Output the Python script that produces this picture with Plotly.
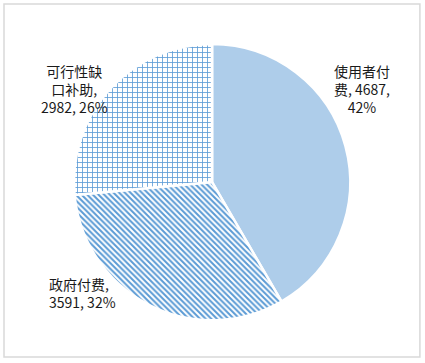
import plotly.graph_objects as go

categories = ["使用者付费", "政府付费", "可行性缺口补助"]
values = [4687, 3591, 2982]
percents = ["42%", "32%", "26%"]
label_lines = [["使用者付", "费, {v},", "{p}"], ["政府付费,", "{v}, {p}"], ["可行性缺", "口补助,", "{v}, {p}"]]

blue = "#5B9BD5"

fig = go.Figure(go.Pie(
    labels=categories,
    values=values,
    sort=False,
    direction="clockwise",
    rotation=0,
    textinfo="none",
    hoverinfo="label+value+percent",
    showlegend=False,
    domain=dict(x=[0.174, 0.824], y=[0.118, 0.879]),
    marker=dict(
        colors=["white", "white", "white"],
        line=dict(color="white", width=2.5),
        pattern=dict(
            shape=[".", "\\", "+"],
            fgcolor=blue,
            bgcolor=["#e6eff9", "white", "white"],
            size=[2, 4, 5],
            solidity=[0.45, 0.5, 0.3],
            fillmode="replace",
        ),
    ),
))

positions = [(0.852, 0.755, "center"), (0.195, 0.193, "left"), (0.176, 0.755, "center")]
annotations = []
for i, (x, y, al) in enumerate(positions):
    txt = "<br>".join(l.format(v=values[i], p=percents[i]) for l in label_lines[i])
    annotations.append(dict(x=x, y=y, xref="paper", yref="paper", text=txt, showarrow=False,
                            align=al, xanchor="center", yanchor="middle",
                            font=dict(family="Noto Sans CJK SC, sans-serif", size=14, color="#1a1a1a")))

fig.update_layout(
    width=425, height=363,
    margin=dict(l=0, r=0, t=0, b=0),
    paper_bgcolor="white",
    annotations=annotations,
    shapes=[dict(type="rect", xref="paper", yref="paper", x0=0.0094, x1=0.988, y0=0.0165, y1=0.989,
                 line=dict(color="#d9d9d9", width=1.5))],
)

fig.write_html("out.html", config={"displayModeBar": False},
               post_script="document.body.style.margin='0';document.body.style.overflow='hidden';")
